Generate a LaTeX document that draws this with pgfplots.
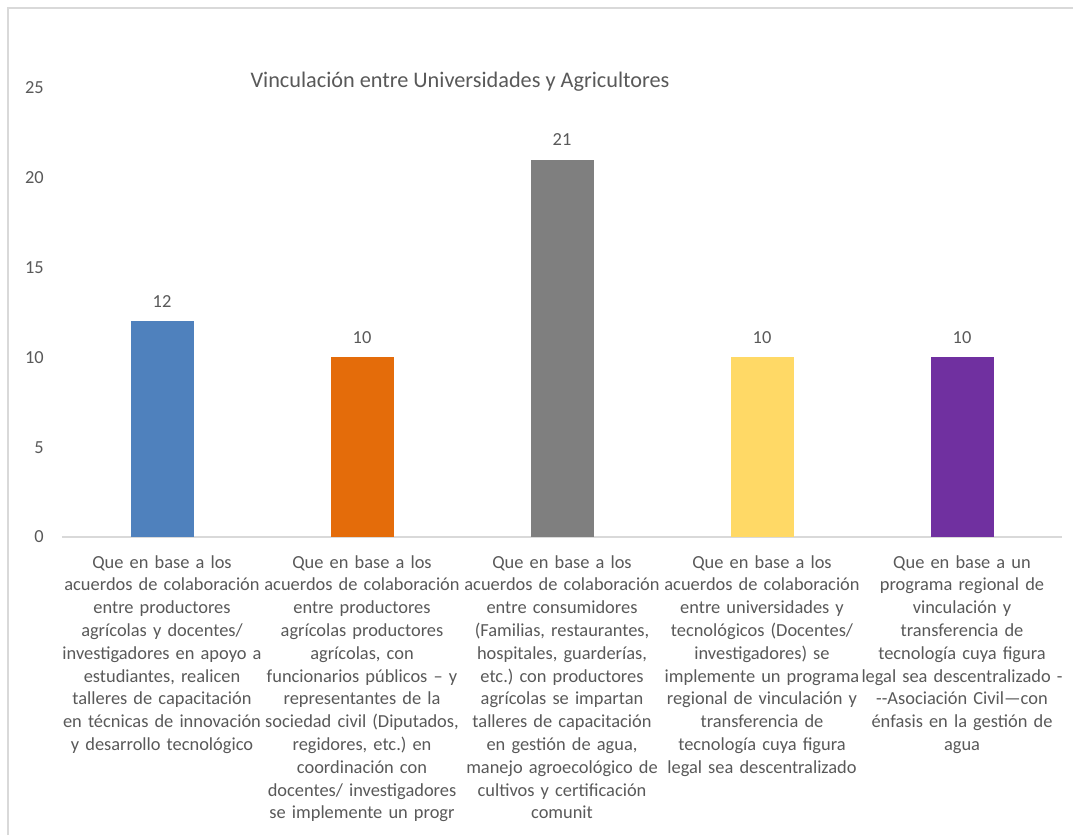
\documentclass[border=0pt]{standalone}
\usepackage{pgfplots}
\pgfplotsset{compat=1.18}
\usepackage{fontspec}
\setmainfont{Carlito}
\definecolor{txt}{HTML}{595959}
\definecolor{frm}{HTML}{D9D9D9}
\definecolor{cA}{HTML}{4F81BD}
\definecolor{cB}{HTML}{E46C0A}
\definecolor{cC}{HTML}{7F7F7F}
\definecolor{cD}{HTML}{FFD966}
\definecolor{cE}{HTML}{7030A0}
\newcommand{\lblfont}{\fontsize{13.8}{17.1}\selectfont}
\frenchspacing
\begin{document}
\begin{tikzpicture}
\useasboundingbox (0,0) rectangle (804.75pt,626.25pt);
\fill[white] (0,0) rectangle (804.75pt,626.25pt);
% chart area border
\draw[frm, line width=1.5pt] (6pt,0) -- (6pt,620.6pt) -- (804.75pt,620.6pt);
\begin{axis}[
  at={(46.5pt,223.5pt)}, anchor=south west,
  scale only axis, width=750pt, height=336.75pt,
  xmin=-0.5, xmax=4.5, ymin=0, ymax=25,
  ytick={0,5,...,25}, xtick={0,...,4},
  axis line style={draw=none},
  major tick length=0pt,
  /pgf/number format/assume math mode=true,
  ybar, bar width=47.25pt, bar shift=0pt,
  tick label style={font=\lblfont, text=txt},
  yticklabel style={anchor=east, inner sep=0pt, xshift=-13.5pt},
  xticklabel style={text width=160pt, align=center, anchor=north, inner sep=0pt, yshift=-13.5pt},
  xticklabels={
    {Que en base a los\\acuerdos de colaboración\\entre productores\\agrícolas y docentes/\\investigadores en apoyo a\\estudiantes, realicen\\talleres de capacitación\\en técnicas de innovación\\y desarrollo tecnológico},
    {Que en base a los\\acuerdos de colaboración\\entre productores\\agrícolas productores\\agrícolas, con\\funcionarios públicos – y\\representantes de la\\sociedad civil (Diputados,\\regidores, etc.) en\\coordinación con\\docentes/ investigadores\\se implemente un progr},
    {Que en base a los\\acuerdos de colaboración\\entre consumidores\\(Familias, restaurantes,\\hospitales, guarderías,\\etc.) con productores\\agrícolas se impartan\\talleres de capacitación\\en gestión de agua,\\manejo agroecológico de\\cultivos y certificación\\comunit},
    {Que en base a los\\acuerdos de colaboración\\entre universidades y\\tecnológicos (Docentes/\\investigadores) se\\implemente un programa\\regional de vinculación y\\transferencia de\\tecnología cuya figura\\legal sea descentralizado},
    {Que en base a un\\programa regional de\\vinculación y\\transferencia de\\tecnología cuya figura\\legal sea descentralizado -\\-\kern0pt-Asociación Civil—con\\énfasis en la gestión de\\agua}
  },
  title={Vinculación entre Universidades y Agricultores},
  title style={at={(0.398,1.018)}, anchor=center, yshift=-7.5pt, font=\fontsize{16.7}{19}\selectfont, text=txt},
  nodes near coords,
  nodes near coords style={font=\lblfont, text=txt, inner sep=0pt, anchor=south, yshift=10.5pt},
]
\draw[frm, line width=1.5pt] (axis cs:-0.5,0) -- (axis cs:4.5,0);
\addplot[fill=cA, draw=none] coordinates {(0,12)};
\addplot[fill=cB, draw=none] coordinates {(1,10)};
\addplot[fill=cC, draw=none] coordinates {(2,21)};
\addplot[fill=cD, draw=none] coordinates {(3,10)};
\addplot[fill=cE, draw=none] coordinates {(4,10)};
\end{axis}
\end{tikzpicture}
\end{document}
